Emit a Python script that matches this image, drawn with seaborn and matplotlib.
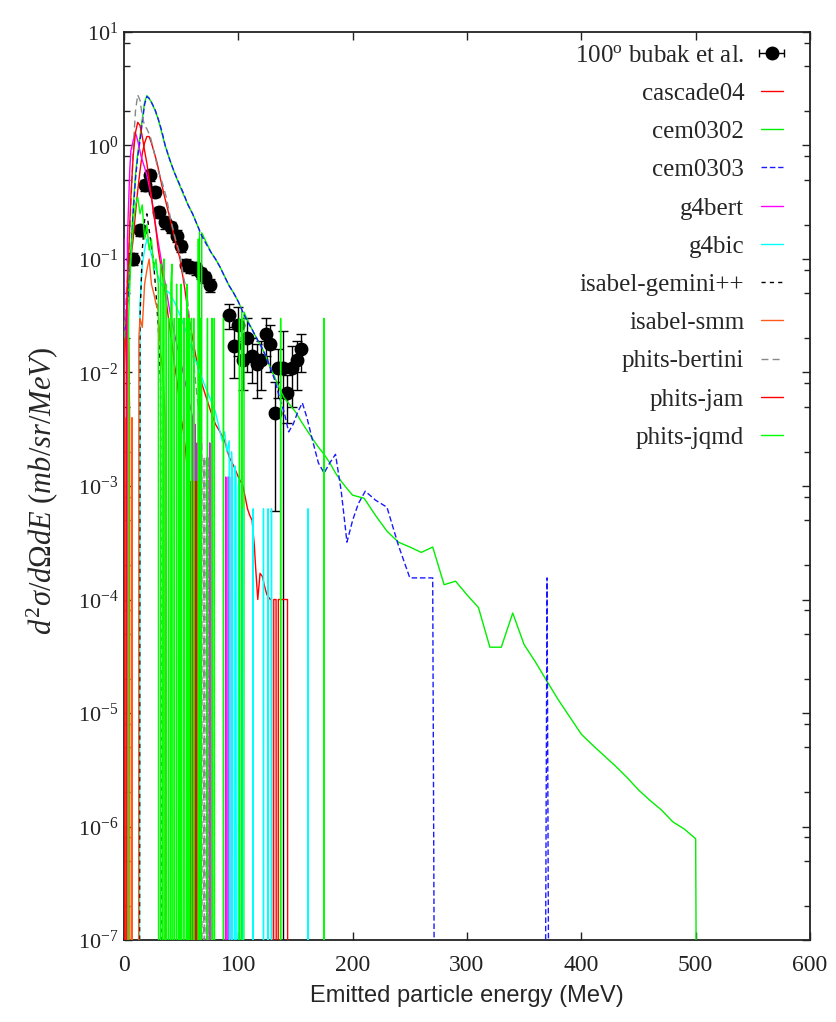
import numpy as np
import matplotlib
matplotlib.use("Agg")
import matplotlib.pyplot as plt
import seaborn as sns
from matplotlib.ticker import FixedLocator, NullFormatter, MultipleLocator, LogFormatterMathtext

# ---------------- data ----------------
exp_E = [8, 14, 18, 23, 27, 31, 36, 41, 46, 50, 54, 58, 63, 67, 71, 75,
         92, 96, 100, 104, 108, 112, 116, 120, 124, 128, 132, 135, 139, 143, 147, 151, 155]
exp_v = [0.10, 0.18, 0.45, 0.55, 0.39, 0.26, 0.21, 0.19, 0.16, 0.13, 0.089, 0.085, 0.083, 0.075, 0.069, 0.059,
         0.032, 0.017, 0.026, 0.013, 0.020, 0.014, 0.012, 0.013, 0.022, 0.018, 0.0044, 0.011, 0.011, 0.0066, 0.011, 0.013, 0.016]
exp_err = [0.012, 0.02, 0.05, 0.06, 0.04, 0.03, 0.025, 0.02, 0.02, 0.015, 0.01, 0.01, 0.01, 0.009, 0.008, 0.008,
           0.008, 0.008, 0.012, 0.006, 0.010, 0.006, 0.006, 0.006, 0.008, 0.008, 0.0038, 0.005, 0.012, 0.003, 0.006, 0.006, 0.006]

cascade04_E = [0, 2, 4, 6, 8, 10, 12, 14, 16, 18, 20, 22, 24, 26, 29, 32, 35, 38, 42, 46, 49, 53, 56, 60, 64, 68,
               72, 76, 80, 84, 88, 92, 96, 100, 104, 106, 108, 110, 112, 114, 115, 117, 119, 121, 123, 125, 128,
               129, 130, 131, 133, 134, 135, 136, 140, 143, 144]
cascade04_v = [0.01, 0.03, 0.06, 0.1, 0.15, 0.25, 0.4, 0.6, 0.85, 1.05, 1.2, 1.2, 1.05, 0.9, 0.7, 0.5, 0.37, 0.28,
               0.19, 0.13, 0.1, 0.056, 0.034, 0.02, 0.012, 0.008, 0.006, 0.0045, 0.0035, 0.003, 0.0025, 0.0018,
               0.0015, 0.0012, 0.001, 0.0008, 0.00063, 0.00055, 0.0005, 0.0003, 0.0002, 0.0001, 0.00017, 0.00016,
               0.00013, 0.00011, 0.0001, 0.0001, 0, 0.0001, 0.0001, 0, 0.0001, 0.0001, 0.0001, 0.0001, 0]

cem0302_E = [0, 2, 4, 6, 8, 10, 12, 14, 16, 18, 20, 22, 24, 27, 30, 33, 36, 40, 44, 48, 52, 56, 60, 64, 66, 67, 68,
             72, 76, 80, 84, 88, 92, 96, 100, 103, 104, 105, 108, 112, 116, 120, 124, 128, 132, 136, 140, 145, 150,
             155, 160, 165, 170, 175, 180, 185, 190, 195, 200, 210, 220, 230, 240, 250, 260, 270, 280, 290, 300,
             310, 320, 330, 340, 350, 360, 370, 380, 390, 400, 410, 420, 430, 440, 450, 460, 470, 480, 490, 500, 510]
cem0302_v = [0.015, 0.03, 0.06, 0.12, 0.28, 0.55, 0.85, 1.2, 1.7, 2.4, 2.75, 2.6, 2.4, 2.05, 1.7, 1.3, 1.0, 0.75,
             0.58, 0.46, 0.37, 0.3, 0.25, 0.2, 0.18, 0, 0.17, 0.14, 0.115, 0.1, 0.085, 0.07, 0.058, 0.05, 0.042,
             0.036, 0, 0.034, 0.029, 0.024, 0.02, 0.017, 0.014, 0.011, 0.009, 0.0072, 0.006, 0.0052, 0.0045,
             0.0037, 0.0031, 0.0026, 0.0022, 0.0019, 0.0016, 0.0013, 0.0011, 0.00095, 0.00083, 0.00078, 0.00055,
             0.0004, 0.00032, 0.00029, 0.00026, 0.00029, 0.000135, 0.000145, 0.00011, 0.000085, 0.000038,
             0.000038, 0.000076, 0.00004, 0.000028, 0.000019, 0.000013, 0.0000092, 0.0000065, 0.0000052,
             0.0000042, 0.0000034, 0.0000027, 0.0000021, 0.0000017, 0.0000014, 0.0000011, 0.00000095,
             0.00000078, 0]

cem0303_E = [0, 2, 4, 6, 8, 10, 12, 14, 16, 18, 20, 22, 24, 27, 30, 33, 36, 40, 44, 48, 52, 56, 60, 64, 68, 72,
             76, 80, 84, 88, 92, 96, 100, 104, 108, 112, 116, 120, 124, 128, 132, 136, 140, 144, 148, 152, 156,
             160, 165, 170, 175, 180, 185, 190, 195, 200, 205, 211, 220, 230, 240, 250, 260, 270, 280, 360, 370, 380]
cem0303_v = [0.02, 0.03, 0.05, 0.1, 0.25, 0.5, 0.8, 1.1, 1.6, 2.3, 2.7, 2.6, 2.4, 2.1, 1.7, 1.35, 1.0, 0.75, 0.58,
             0.47, 0.38, 0.3, 0.25, 0.2, 0.16, 0.135, 0.115, 0.1, 0.085, 0.07, 0.058, 0.05, 0.042, 0.034, 0.028,
             0.024, 0.02, 0.017, 0.014, 0.011, 0.0085, 0.006, 0.0045, 0.003, 0.0035, 0.0045, 0.0054, 0.004,
             0.0025, 0.0016, 0.0013, 0.0016, 0.0019, 0.0009, 0.00032, 0.0005, 0.0007, 0.0009, 0.00075, 0.00065,
             0.0003, 0.000155, 0.000155, 0.000155, 0, 0, 0.000155, 0]

g4bert_E = [0, 2, 3, 4, 5, 6, 8, 10, 12, 15, 20, 24, 29, 35, 40, 45, 50, 55, 58, 60, 61, 62, 63, 64, 65, 66, 72,
            73, 74, 75, 76, 77, 78, 88, 89, 90, 91, 92, 93, 94, 95]
g4bert_v = [0.15, 0, 0.15, 0.3, 0.6, 0.9, 1.1, 1.3, 1.1, 0.8, 0.55, 0.35, 0.16, 0.07, 0.035, 0.02, 0.012, 0.007,
            0.005, 0.004, 0, 0.0035, 0, 0.0024, 0, 0, 0, 0.0018, 0, 0.0024, 0, 0.0018, 0, 0, 0.0012, 0, 0.0012,
            0.0012, 0, 0.0012, 0]

g4bic_E = [12, 14, 16, 18, 20, 22, 25, 28, 31, 35, 40, 45, 50, 55, 60, 65, 70, 75, 80, 84, 86, 88, 90, 92, 93, 94,
           95, 96, 97, 98, 99, 100, 101, 102, 103, 104, 105, 112, 113, 114, 121, 122, 123, 125, 126, 127, 128,
           129, 130, 160, 161, 162]
g4bic_v = [0, 0.04, 0.09, 0.12, 0.15, 0.13, 0.1, 0.08, 0.065, 0.055, 0.05, 0.04, 0.03, 0.022, 0.015, 0.011, 0.008,
           0.006, 0.0045, 0.003, 0.0025, 0.003, 0.002, 0.0025, 0, 0.002, 0.0012, 0, 0.0015, 0.0012, 0, 0.001,
           0.0012, 0, 0, 0.00063, 0, 0, 0.00063, 0, 0, 0.00063, 0, 0, 0.00063, 0, 0, 0.00063, 0, 0, 0.00063, 0]

gemini_E = [12, 14, 16, 18, 20, 22, 24, 26, 28, 30, 32, 34]
gemini_v = [0, 0.03, 0.12, 0.22, 0.25, 0.18, 0.13, 0.09, 0.05, 0.025, 0.008, 0]

smm_E = [0, 1, 2, 3, 4, 5, 6, 7, 8, 12, 13, 14, 16, 18, 20, 22, 24, 26, 28, 30, 32, 34, 36, 38]
smm_v = [0.02, 0, 0.004, 0, 0.02, 0.004, 0, 0.004, 0, 0, 0.02, 0.03, 0.025, 0.06, 0.08, 0.1, 0.06, 0.05, 0.04,
         0.035, 0.015, 0.01, 0.004, 0]

bertini_E = [0, 2, 4, 6, 8, 10, 12, 14, 16, 18, 20, 23, 26, 30, 34, 37, 41, 45, 49, 52, 55, 58, 61, 64, 66, 68,
             69, 70, 71, 72, 73, 74, 75]
bertini_v = [0.02, 0.05, 0.1, 0.3, 0.9, 2.0, 2.8, 2.5, 1.8, 1.5, 1.4, 1.2, 0.9, 0.6, 0.45, 0.35, 0.22, 0.15, 0.11,
             0.07, 0.05, 0.025, 0.012, 0.006, 0.004, 0.0025, 0, 0.0018, 0, 0.0018, 0, 0.0018, 0]

jam_E = [0, 1, 2, 3, 4, 5, 6, 8, 10, 12, 14, 16, 18, 20, 22, 24, 26, 28, 30, 32, 34, 36, 38, 40, 42, 44, 46, 48,
         50, 52, 54, 56, 57, 58, 59, 60, 61, 62, 63, 64, 65]
jam_v = [0.02, 0, 0.03, 0.06, 0.1, 0.2, 0.35, 0.8, 1.3, 1.6, 1.5, 1.2, 0.9, 0.7, 0.5, 0.35, 0.25, 0.18, 0.12, 0.09,
         0.07, 0.05, 0.035, 0.025, 0.018, 0.012, 0.009, 0.006, 0.004, 0.003, 0.002, 0.0011, 0, 0.0011, 0,
         0.0011, 0, 0.0011, 0, 0.0011, 0]

jqmd_E = [0, 2, 4, 6, 8, 10, 12, 14, 16, 18, 20, 22, 24, 26, 28, 30, 31, 32, 33, 34, 35, 36, 37, 38, 39, 40, 41,
          42, 43, 44, 45, 46, 47, 48, 49, 50, 51, 52, 53, 54, 55, 56, 57, 58, 59, 60, 61, 62, 64, 65, 66, 67, 68,
          72, 73, 74, 76, 77, 78, 79, 80, 86, 87, 88, 100, 101, 102, 103, 104, 136, 137, 138, 174, 175, 176]
jqmd_v = [0, 0, 0.03, 0.1, 0.2, 0.3, 0.35, 0.25, 0.3, 0.15, 0.2, 0.12, 0.15, 0.08, 0.1, 0.06, 0, 0.09, 0, 0.06,
          0.1, 0, 0.06, 0, 0.03, 0, 0.06, 0.09, 0, 0.03, 0, 0.06, 0, 0.03, 0, 0.06, 0, 0.03, 0.03, 0, 0.06, 0,
          0.03, 0, 0.03, 0, 0.03, 0, 0, 0.15, 0, 0.03, 0, 0, 0.03, 0, 0, 0.03, 0, 0.03, 0, 0, 0.03, 0, 0, 0.03, 0,
          0.03, 0, 0, 0.03, 0, 0, 0.03, 0]

y_major = [1e-7, 1e-6, 1e-5, 1e-4, 1e-3, 1e-2, 1e-1, 1e0, 1e1]

series = [
    ("cascade04", cascade04_E, cascade04_v, "#ff0000", "-"),
    ("cem0302", cem0302_E, cem0302_v, "#00ee00", "-"),
    ("cem0303", cem0303_E, cem0303_v, "#1a1aff", (0, (4, 2))),
    ("g4bert", g4bert_E, g4bert_v, "#ff00ff", "-"),
    ("g4bic", g4bic_E, g4bic_v, "#00ffff", "-"),
    ("isabel-gemini++", gemini_E, gemini_v, "#000000", (0, (3, 3))),
    ("isabel-smm", smm_E, smm_v, "#ff5a1a", "-"),
    ("phits-bertini", bertini_E, bertini_v, "#888888", (0, (5, 3))),
    ("phits-jam", jam_E, jam_v, "#ff0000", "-"),
    ("phits-jqmd", jqmd_E, jqmd_v, "#00ff00", "-"),
]

# ---------------- style ----------------
sns.set_theme(style="ticks")
plt.rcParams['font.family'] = ['Liberation Serif', 'DejaVu Serif']
plt.rcParams['mathtext.fontset'] = 'custom'
plt.rcParams['mathtext.rm'] = 'Liberation Serif'
plt.rcParams['mathtext.it'] = 'Liberation Serif:italic'
plt.rcParams['mathtext.bf'] = 'Liberation Serif:bold'

fig = plt.figure(figsize=(8.36, 10.22), dpi=100)
ax = fig.add_axes([124 / 836, 82 / 1022, 686 / 836, 908 / 1022])
ax.set_yscale('log')
ax.set_xlim(0, 600)
ax.set_ylim(1e-7, 10)

FLOOR = 1e-30
handles = {}

# experimental data (drawn first, like gnuplot)
ev = np.array(exp_v)
ee = np.array(exp_err)
lo = np.minimum(ee, ev - FLOOR)
ax.errorbar(exp_E, exp_v, yerr=[lo, ee], fmt='none', ecolor='black', elinewidth=1.0, capsize=3.5, zorder=2)
h_exp = ax.errorbar(exp_E, exp_v, xerr=1.0, fmt='o', color='black', ms=9, elinewidth=1.0, capsize=3, zorder=2)
handles["100$^{\\mathrm{o}}$ bubak et al."] = h_exp

for i, (name, E, v, col, ls) in enumerate(series):
    vv = np.where(np.array(v) > 0, np.array(v), FLOOR)
    n_before = len(ax.lines)
    sns.lineplot(x=E, y=vv, ax=ax, color=col, lw=1.0, estimator=None, sort=False, legend=False)
    line = ax.lines[n_before]
    line.set_linestyle(ls)
    line.set_zorder(3 + i * 0.1)
    handles[name] = line

# ---------------- axes ----------------
minor = [m * d for d in y_major[:-1] for m in (2, 5, 8)]
ax.xaxis.set_major_locator(MultipleLocator(100))
ax.yaxis.set_major_locator(FixedLocator(y_major))
ax.yaxis.set_major_formatter(LogFormatterMathtext())
ax.yaxis.set_minor_locator(FixedLocator(minor))
ax.yaxis.set_minor_formatter(NullFormatter())
ax.tick_params(which='both', direction='in', top=True, right=True, colors='#222222')
ax.tick_params(which='major', length=6, width=1.0)
ax.tick_params(which='minor', length=4, width=1.0)
ax.tick_params(axis='x', which='major', labelsize=17, pad=11)
ax.tick_params(axis='y', which='major', labelsize=16, pad=4)
for sp in ax.spines.values():
    sp.set_linewidth(1.3)
    sp.set_color('#222222')

ax.set_xlabel('Emitted particle energy (MeV)', fontsize=17,
              family=['Liberation Sans Narrow', 'Liberation Sans', 'DejaVu Sans'], labelpad=6)
ax.set_ylabel(r'$d^2\sigma/d\Omega dE\ (mb/sr/MeV)$', fontsize=22)
ax.yaxis.set_label_coords((60 - 124) / 686, 0.495)

leg = ax.legend(list(handles.values()), list(handles.keys()), loc='upper right',
                bbox_to_anchor=((783 - 124) / 686, 1 - 12 / 908), markerfirst=False, frameon=False,
                fontsize=18, handlelength=0.9, handletextpad=0.65, labelspacing=0.63,
                borderpad=0, borderaxespad=0)

fig.savefig('out.png', dpi=100)
